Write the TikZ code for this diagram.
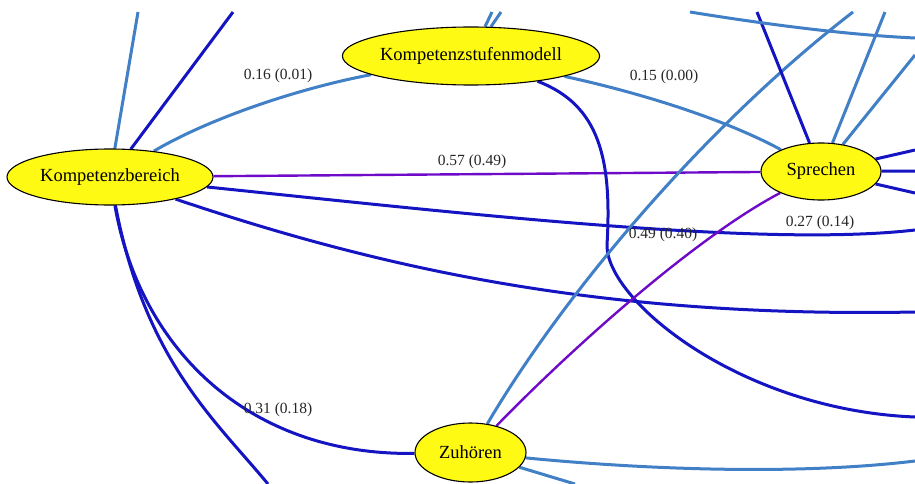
\documentclass[tikz,border=0pt]{standalone}
\usepackage{fontspec}
\setmainfont{Liberation Serif}
\usetikzlibrary{shapes.geometric,backgrounds}
\definecolor{lblue}{RGB}{65,128,198}
\definecolor{dblue}{RGB}{20,20,195}
\definecolor{purp}{RGB}{110,10,200}
\definecolor{nodey}{RGB}{255,250,20}
\begin{document}
\begin{tikzpicture}[x=1pt,y=-1pt,
  nd/.style={ellipse, draw=black, line width=1.1pt, fill=nodey, inner sep=0pt, font=\fontsize{18.5}{22}\selectfont},
  lbl/.style={font=\fontsize{15.5}{18}\selectfont, text=black!85, inner sep=0pt},
  lb/.style={draw=lblue, line width=3pt},
  db/.style={draw=dblue, line width=3pt},
  pe/.style={draw=purp, line width=2.4pt}]
\useasboundingbox (0,0) rectangle (915,484);
% nodes
\node[nd, minimum width=206pt, minimum height=56pt] (kb) at (110,177) {Kompetenzbereich};
\node[nd, minimum width=256pt, minimum height=58pt] (ksm) at (471,56) {Kompetenzstufenmodell};
\node[nd, minimum width=120pt, minimum height=57pt] (spr) at (821,171.5) {Sprechen};
\node[nd, minimum width=111pt, minimum height=59pt] (zuh) at (470.5,452.5) {Zuhören};
% free ends
\coordinate (t1) at (138,12);
\coordinate (t2) at (233,12);
\coordinate (t3) at (492,12);
\coordinate (t4) at (501,12);
\coordinate (t5) at (757,12);
\coordinate (t6) at (885,12);
\coordinate (t7a) at (690,12);
\coordinate (t7b) at (915,38);
\coordinate (t8) at (853,12);
\coordinate (r1) at (915,55);
\coordinate (r2) at (915,150);
\coordinate (r3) at (915,171);
\coordinate (r4) at (915,193);
\coordinate (r5) at (915,230);
\coordinate (r6) at (915,312);
\coordinate (r7) at (915,417);
\coordinate (r8) at (915,461);
\coordinate (b1) at (268,484);
\coordinate (b2) at (575,484);
\coordinate (m1) at (607,245);
% labels
\node[lbl] (l1) at (278,76) {0.16 (0.01)};
\node[lbl] (l2) at (664,77) {0.15 (0.00)};
\node[lbl] (l3) at (472,162) {0.57 (0.49)};
\node[lbl] (l4) at (820,223) {0.27 (0.14)};
\node[lbl] (l5) at (663,235) {0.49 (0.40)};
\node[lbl] (l6) at (278,410) {0.31 (0.18)};
\begin{pgfonlayer}{background}
\fill[white] (0,0) rectangle (915,484);
% Kompetenzbereich
\draw[lb] (kb) -- (t1);
\draw[db] (kb) -- (t2);
\draw[lb] (kb) .. controls (210,118) and (300,88) .. (ksm);
\draw[pe] (kb) -- (spr);
\draw[db] (kb) .. controls (450,212) and (760,248) .. (r5);
\draw[db] (kb) .. controls (380,268) and (600,318) .. (r6);
\draw[db] (kb) .. controls (140,350) and (250,456) .. (zuh);
\draw[db] (kb) .. controls (145,360) and (215,420) .. (b1);
% Kompetenzstufenmodell
\draw[lb] (ksm) -- (t3);
\draw[lb] (ksm) -- (t4);
\draw[lb] (ksm) .. controls (650,95) and (730,122) .. (spr);
\draw[db] (ksm) .. controls (600,105) and (612,160) .. (m1)
              .. controls (606,300) and (740,410) .. (r7);
% Zuhoeren
\draw[lb] (zuh) .. controls (560,300) and (700,130) .. (t8);
\draw[pe] (zuh) .. controls (580,340) and (700,235) .. (spr);
\draw[lb] (zuh) .. controls (650,470) and (800,475) .. (r8);
\draw[lb] (zuh) -- (b2);
% Sprechen
\draw[db] (spr) -- (t5);
\draw[lb] (spr) -- (t6);
\draw[lb] (spr) -- (r1);
\draw[db] (spr) -- (r2);
\draw[db] (spr) -- (r3);
\draw[db] (spr) -- (r4);
% free top curve
\draw[lb] (t7a) .. controls (770,25) and (850,35) .. (t7b);
\end{pgfonlayer}
\end{tikzpicture}
\end{document}
